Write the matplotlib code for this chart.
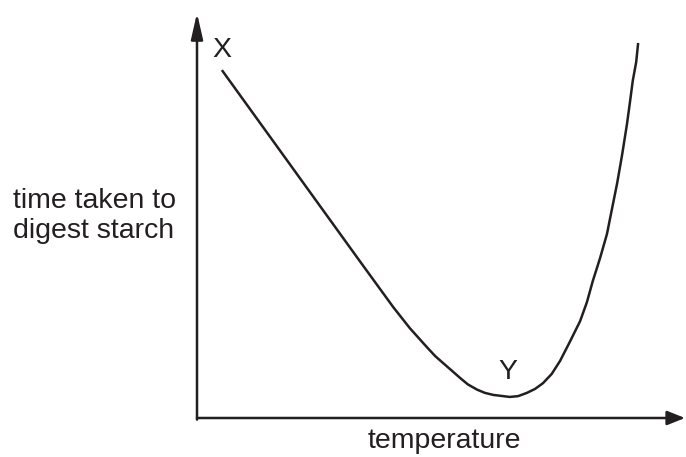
import matplotlib
matplotlib.use("Agg")
from matplotlib import pyplot as plt
import numpy as np

plt.rcParams['font.family'] = ['Liberation Sans', 'DejaVu Sans']

# curve (arbitrary units, 0-100 on both axes)
temperature = [5.1, 33.2, 40.2, 43.6, 47.1, 48.8, 50.4, 52.3, 53.9, 55.5, 57.4,
               59.0, 60.7, 64.1, 65.8, 67.6, 69.3, 70.9, 72.7, 74.4, 76.4, 78.5,
               79.9, 81.1, 82.6, 84.0, 85.0, 86.1, 87.1, 88.1, 88.7, 89.3, 90.0, 90.4]
time_taken = [85.9, 39.0, 27.4, 22.2, 17.5, 15.3, 13.6, 11.6, 9.9, 8.3, 7.0,
              6.2, 5.7, 5.2, 5.4, 6.2, 7.2, 8.6, 10.9, 14.1, 18.8, 23.9,
              28.6, 33.8, 39.5, 45.4, 51.4, 58.0, 64.9, 72.5, 77.8, 83.3, 87.9, 92.6]

x_label = 'temperature'
y_label = 'time taken to\ndigest starch'
point_labels = ['X', 'Y']
point_pos = [(5.1, 90.9), (63.7, 11.4)]

ink = '#231f20'
fs = 20.5

fig = plt.figure(figsize=(6.86, 4.57), dpi=100)
ax = fig.add_axes([197/686, 39/457, 488/686, 405/457])
ax.set_xlim(0, 100)
ax.set_ylim(0, 100)
ax.axis('off')

ax.plot(temperature, time_taken, color=ink, lw=1.8,
        solid_capstyle='butt', solid_joinstyle='round')

# axes drawn as arrows
ax.annotate('', xy=(0, 1), xytext=(0, -0.004), xycoords='axes fraction',
            arrowprops=dict(arrowstyle='-|>,head_length=15.8,head_width=3.6',
                            mutation_scale=1, lw=1.8, color=ink,
                            shrinkA=0, shrinkB=0))
ax.annotate('', xy=(1, 0), xytext=(0, 0), xycoords='axes fraction',
            arrowprops=dict(arrowstyle='-|>,head_length=10.8,head_width=4.3',
                            mutation_scale=1, lw=1.8, color=ink,
                            shrinkA=0, shrinkB=0))

for lab, (px, py) in zip(point_labels, point_pos):
    ax.text(px, py, lab, fontsize=fs, color=ink, ha='center', va='center')

fig.text(13/686, 1 - 216/457, y_label, fontsize=fs, color=ink,
         ha='left', va='center', multialignment='left', linespacing=1.2)
fig.text(444/686, 1 - 441/457, x_label, fontsize=fs, color=ink,
         ha='center', va='center')

fig.savefig('out.png', dpi=100)
